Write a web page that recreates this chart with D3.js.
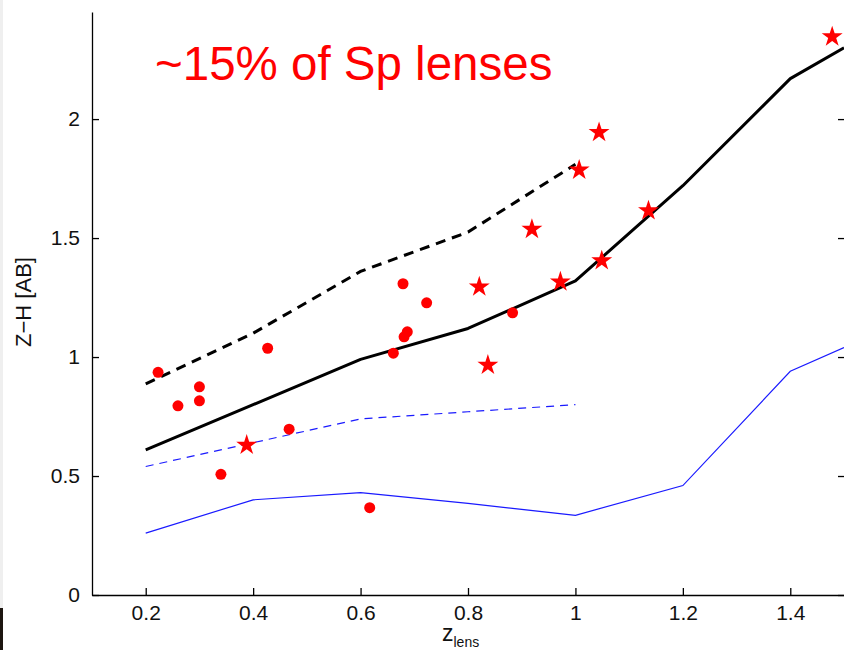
<!DOCTYPE html>
<html>
<head>
<meta charset="utf-8">
<script src="https://cdn.jsdelivr.net/npm/d3@7"></script>
<style>
  html, body { margin: 0; padding: 0; background: #fff; }
  svg { display: block; }
  text { font-family: "Liberation Sans", Arial, Helvetica, sans-serif; }
</style>
</head>
<body>
<svg id="chart" width="844" height="650"></svg>
<script>
// Model tracks on a redshift grid
const zModel = [0.2, 0.4, 0.6, 0.8, 1.0, 1.2, 1.4, 1.5];
const blackSolid = [0.61, 0.80, 0.99, 1.12, 1.32, 1.72, 2.17, 2.30];
const blueSolid = [0.26, 0.40, 0.43, 0.385, 0.335, 0.46, 0.94, 1.04];

const zShort = [0.2, 0.4, 0.6, 0.8, 1.0];
const blackDashed = [0.887, 1.10, 1.36, 1.525, 1.81];
const blueDashed = [0.54, 0.64, 0.74, 0.77, 0.80];

// Lenses drawn as dots
const dotZ = [0.223, 0.260, 0.300, 0.300, 0.340, 0.427, 0.467, 0.617, 0.661, 0.681, 0.687, 0.679, 0.723, 0.883];
const dotColour = [0.936, 0.795, 0.875, 0.816, 0.507, 1.037, 0.697, 0.367, 1.016, 1.085, 1.106, 1.308, 1.228, 1.186];

// Lenses drawn as stars
const starZ = [0.388, 0.821, 0.837, 0.919, 0.972, 1.007, 1.044, 1.049, 1.136, 1.478];
const starColour = [0.63, 1.295, 0.966, 1.537, 1.316, 1.786, 1.944, 1.405, 1.615, 2.346];

// Axis ticks
const xTicks = [0.2, 0.4, 0.6, 0.8, 1.0, 1.2, 1.4];
const xTickLabels = ["0.2", "0.4", "0.6", "0.8", "1", "1.2", "1.4"];
const yTicks = [0, 0.5, 1, 1.5, 2];
const yTickLabels = ["0", "0.5", "1", "1.5", "2"];

const svg = d3.select("#chart");
const plotLeft = 92, plotRight = 845, plotTop = 12, plotBottom = 595;

const x = d3.scaleLinear().domain([0.1, 1.5]).range([plotLeft, 844]);
const y = d3.scaleLinear().domain([0, 2.45]).range([plotBottom, plotTop]);

// thin strip along the left edge
svg.append("rect").attr("x", 0).attr("y", 0).attr("width", 3).attr("height", 608).attr("fill", "#efefef");
svg.append("rect").attr("x", 0).attr("y", 608).attr("width", 3).attr("height", 42).attr("fill", "#1d1510");

const line = d3.line().x(d => x(d[0])).y(d => y(d[1]));
const zip = (a, b) => a.map((v, i) => [v, b[i]]);

const plot = svg.append("g");

plot.append("path").datum(zip(zModel, blueSolid))
  .attr("d", line).attr("fill", "none").attr("stroke", "#1a1aff").attr("stroke-width", 1.2);
plot.append("path").datum(zip(zShort, blueDashed))
  .attr("d", line).attr("fill", "none").attr("stroke", "#1a1aff").attr("stroke-width", 1.2)
  .attr("stroke-dasharray", "8,6");
plot.append("path").datum(zip(zModel, blackSolid))
  .attr("d", line).attr("fill", "none").attr("stroke", "#000").attr("stroke-width", 3)
  .attr("stroke-linejoin", "round");
plot.append("path").datum(zip(zShort, blackDashed))
  .attr("d", line).attr("fill", "none").attr("stroke", "#000").attr("stroke-width", 3)
  .attr("stroke-dasharray", "10,7");

const dotSym = d3.symbol().type(d3.symbolCircle).size(Math.PI * 5.5 * 5.5);
plot.selectAll(".dot").data(zip(dotZ, dotColour)).join("path")
  .attr("class", "dot")
  .attr("d", dotSym)
  .attr("transform", d => `translate(${x(d[0])},${y(d[1])})`)
  .attr("fill", "#ff0000");

const starSym = d3.symbol().type(d3.symbolStar).size(136);
plot.selectAll(".star").data(zip(starZ, starColour)).join("path")
  .attr("class", "star")
  .attr("d", starSym)
  .attr("transform", d => `translate(${x(d[0])},${y(d[1])})`)
  .attr("fill", "#ff0000");

// Axes
const xAxis = d3.axisBottom(x).tickValues(xTicks)
  .tickFormat((d, i) => xTickLabels[i]).tickSizeInner(-7).tickSizeOuter(0).tickPadding(10);
const gx = svg.append("g").attr("transform", `translate(0,${plotBottom})`).call(xAxis);

const yAxis = d3.axisLeft(y).tickValues(yTicks)
  .tickFormat((d, i) => yTickLabels[i]).tickSizeInner(-7).tickSizeOuter(0).tickPadding(12);
const gy = svg.append("g").attr("transform", `translate(${plotLeft},0)`).call(yAxis);

const yAxisRight = d3.axisRight(y).tickValues(yTicks)
  .tickFormat("").tickSizeInner(-7).tickSizeOuter(0);
const gyr = svg.append("g").attr("transform", `translate(${plotRight},0)`).call(yAxisRight);

[gx, gy, gyr].forEach(g => {
  g.selectAll("path.domain").attr("stroke", "#000").attr("stroke-width", 1.3);
  g.selectAll(".tick line").attr("stroke", "#000").attr("stroke-width", 1.3);
  g.selectAll(".tick text").attr("fill", "#111").style("font-size", "21px")
    .style("font-family", "'Liberation Sans', Arial, Helvetica, sans-serif");
});

// Axis labels
svg.append("text")
  .attr("transform", `translate(31,302) rotate(-90)`)
  .attr("text-anchor", "middle")
  .style("font-size", "22px")
  .attr("fill", "#111")
  .text("Z\u2212H [AB]");

const xl = svg.append("text").attr("x", 442).attr("y", 641).attr("fill", "#111").style("font-size", "23px");
xl.append("tspan").text("z");
xl.append("tspan").attr("dy", 6).style("font-size", "14px").text("lens");

// Annotation
svg.append("text")
  .attr("x", 155).attr("y", 80)
  .attr("fill", "#ff0000")
  .style("font-size", "47.5px")
  .text("~15% of Sp lenses");
</script>
</body>
</html>
